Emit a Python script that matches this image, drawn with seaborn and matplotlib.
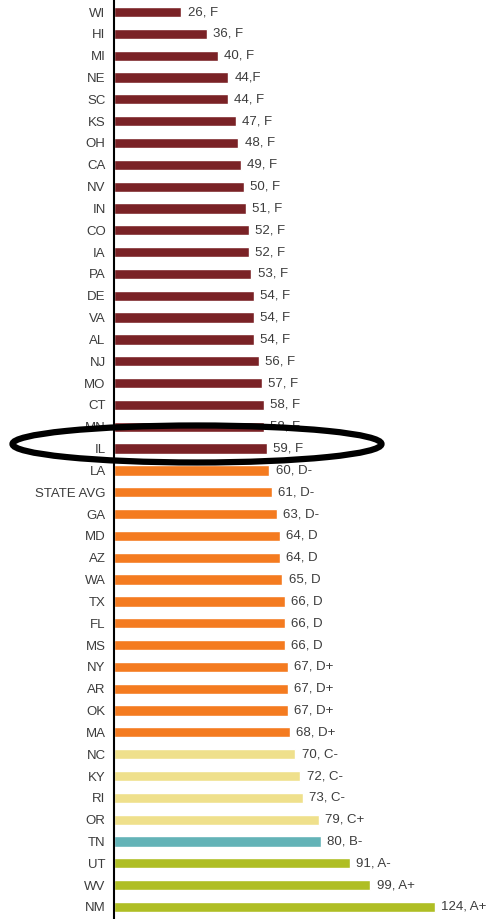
import matplotlib
matplotlib.use("Agg")
import matplotlib.pyplot as plt
from matplotlib.patches import Ellipse
import seaborn as sns
import pandas as pd

states = ["WI", "HI", "MI", "NE", "SC", "KS", "OH", "CA", "NV", "IN", "CO", "IA", "PA",
          "DE", "VA", "AL", "NJ", "MO", "CT", "MN", "IL", "LA", "STATE AVG", "GA", "MD",
          "AZ", "WA", "TX", "FL", "MS", "NY", "AR", "OK", "MA", "NC", "KY", "RI", "OR",
          "TN", "UT", "WV", "NM"]
scores = [26, 36, 40, 44, 44, 47, 48, 49, 50, 51, 52, 52, 53,
          54, 54, 54, 56, 57, 58, 58, 59, 60, 61, 63, 64,
          64, 65, 66, 66, 66, 67, 67, 67, 68, 70, 72, 73, 79,
          80, 91, 99, 124]
labels = ["26, F", "36, F", "40, F", "44,F", "44, F", "47, F", "48, F", "49, F", "50, F",
          "51, F", "52, F", "52, F", "53, F", "54, F", "54, F", "54, F", "56, F", "57, F",
          "58, F", "58, F", "59, F", "60, D-", "61, D-", "63, D-", "64, D", "64, D", "65, D",
          "66, D", "66, D", "66, D", "67, D+", "67, D+", "67, D+", "68, D+", "70, C-",
          "72, C-", "73, C-", "79, C+", "80, B-", "91, A-", "99, A+", "124, A+"]
groups = ["F"] * 21 + ["D"] * 13 + ["C"] * 4 + ["B"] + ["A"] * 3
palette = {"F": "#7A2226", "D": "#F47B20", "C": "#EFE08C", "B": "#63B3B7", "A": "#AFBE24"}

df = pd.DataFrame({"state": states, "score": scores, "group": groups})

sns.set_style("white")
plt.rcParams["font.family"] = ["Liberation Sans", "DejaVu Sans"]

fig = plt.figure(figsize=(4.91, 9.19), dpi=100)
ax = fig.add_axes([114 / 491, 0, 1 - 114 / 491, 1])

sns.barplot(data=df, y="state", x="score", hue="group", palette=palette,
            dodge=False, width=0.47, legend=False, ax=ax, orient="h", saturation=1)

for i, (v, lab) in enumerate(zip(scores, labels)):
    ax.annotate(lab, xy=(v, i), xytext=(4.5, 0), textcoords="offset points",
                va="center", ha="left", fontsize=9.5, color="#3c3c3c")

ax.set_xlim(0, (491 - 114) / 2.59)
ax.set_ylim(41.55, -0.55)
ax.set_xlabel("")
ax.set_ylabel("")
ax.set_xticks([])
ax.tick_params(axis="y", length=0, pad=6, labelsize=9.5, labelcolor="#3c3c3c")
for s in ["top", "right", "bottom"]:
    ax.spines[s].set_visible(False)
ax.spines["left"].set_color("black")
ax.spines["left"].set_linewidth(1.5)

# ellipse highlight around IL
px = 2.59
row = 21.83
ell = Ellipse(xy=((197 - 114) / px, (444 - 12) / row), width=369 / px, height=37 / row,
              fill=False, edgecolor="black", linewidth=4.5, clip_on=False, zorder=5)
ax.add_patch(ell)

fig.savefig("out.png", dpi=100)
